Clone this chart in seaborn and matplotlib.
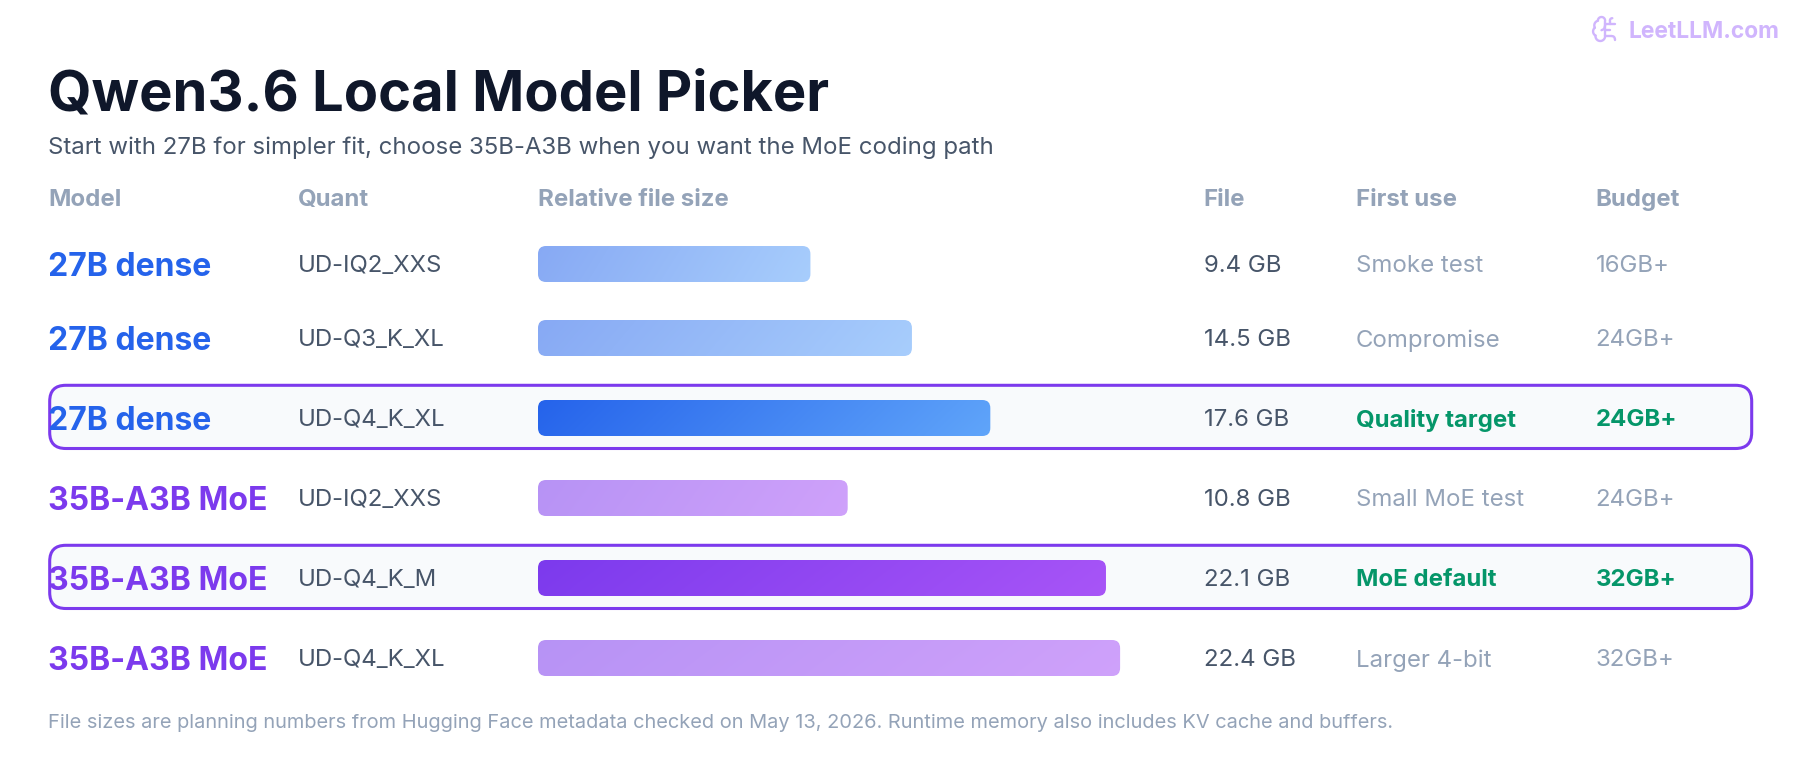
import matplotlib
matplotlib.use('Agg')
import matplotlib.pyplot as plt
import pandas as pd
import seaborn as sns
import numpy as np
from matplotlib.patches import FancyBboxPatch
from matplotlib.colors import to_rgb

models = ['27B dense', '27B dense', '27B dense', '35B-A3B MoE', '35B-A3B MoE', '35B-A3B MoE']
quants = ['UD-IQ2_XXS', 'UD-Q3_K_XL', 'UD-Q4_K_XL', 'UD-IQ2_XXS', 'UD-Q4_K_M', 'UD-Q4_K_XL']
file_labels = ['9.4 GB', '14.5 GB', '17.6 GB', '10.8 GB', '22.1 GB', '22.4 GB']
relative_size = [10.6, 14.55, 17.6, 12.05, 22.1, 22.65]  # bar lengths as drawn
first_use = ['Smoke test', 'Compromise', 'Quality target', 'Small MoE test', 'MoE default', 'Larger 4-bit']
budgets = ['16GB+', '24GB+', '24GB+', '24GB+', '32GB+', '32GB+']
picked = [False, False, True, False, True, False]
headers = ['Model', 'Quant', 'Relative file size', 'File', 'First use', 'Budget']

W, H = 1800, 784
ROW_Y = [264, 338, 418, 498, 578, 658]
HEADER_X = [48, 298, 538, 1203.5, 1356, 1595.5]
PX_PER_UNIT = 25.7
BLUE, PURPLE = '#2563eb', '#7c3aed'
GREEN = '#059669'
SLATE = '#475569'
MUTED = '#94a3b8'
LOGO = '#d0b5fd'

sns.set_theme(style='white')
plt.rcParams['font.family'] = ['Inter', 'DejaVu Sans']

fig = plt.figure(figsize=(W / 100, H / 100), dpi=100, facecolor='white')

bg = fig.add_axes([0, 0, 1, 1], zorder=-1)
bg.set_xlim(0, W)
bg.set_ylim(H, 0)
bg.axis('off')

ax = fig.add_axes([538 / W, 0, 1 - 538 / W, 1])


def put(x, y, s, size, color, weight='normal'):
    # y это базовая линия текста в пикселях
    fig.text(x / W, 1 - y / H, s, fontsize=size * 0.72, color=color,
             fontweight=weight, va='baseline', ha='left')


def arc(cx, cy, r, a0, a1):
    a = np.radians(np.linspace(a0, a1, 30))
    return cx + r * np.cos(a), cy + r * np.sin(a)


def draw_logo(x0, y0, k):
    # значок мозга, координаты в сетке 24x24
    parts = [arc(9, 5, 3, 0, -178), arc(7, 9, 4, -104, -208),
             arc(5.99, 14, 4, -129, -241), arc(8, 18, 4, -173, -360),
             ([12, 12], [18, 5]), ([9, 11.2, 12], [13, 12, 9]),
             ([12, 16], [13, 13]), ([12, 20], [8, 8]),
             ([16, 16], [8, 5]), arc(18, 5, 2, 180, 270),
             ([12, 18], [18, 18]), arc(18, 20, 2, -90, 0), ([20, 20], [20, 21])]
    for px, py in parts:
        bg.plot(x0 + k * np.asarray(px), y0 + k * np.asarray(py), color=LOGO,
                lw=1.7, solid_capstyle='round')


# подсветка выбранных строк
for y, p in zip(ROW_Y, picked):
    if p:
        bg.add_patch(FancyBboxPatch((49.7, y - 32.7), 1702, 63.2,
                                    boxstyle='round,pad=0,rounding_size=16',
                                    fc='#f8fafc', ec=PURPLE, lw=2.2))

df = pd.DataFrame({'row': ROW_Y, 'size': relative_size, 'model': models})
sns.barplot(data=df, x='size', y='row', orient='h', native_scale=True,
            width=36 / 74, ax=ax, color='#cccccc')
ax.axis('off')
ax.patch.set_alpha(0)

# seaborn рисует прямоугольники, заменяем их на скруглённые с градиентом
for bar, model, p in zip(list(ax.patches), models, picked):
    x0, y0, w, h = bar.get_x(), bar.get_y(), bar.get_width(), bar.get_height()
    bar.set_visible(False)
    if model.startswith('27B'):
        c0, c1 = to_rgb('#2563eb'), to_rgb('#60a5fa')
    else:
        c0, c1 = to_rgb('#7c3aed'), to_rgb('#a855f7')
    u, v = np.meshgrid(np.linspace(0, 1, 300), np.linspace(0, 1, 40))
    t = (u + 0.08 * v)[..., None] / 1.08
    rgb = np.array(c0) * (1 - t) + np.array(c1) * t
    if not p:
        rgb = rgb * 0.55 + 0.45
    im = ax.imshow(rgb, extent=(x0, x0 + w, y0 + h, y0), aspect='auto', zorder=3)
    clip = FancyBboxPatch((x0, y0), w, h, boxstyle=f'round,pad=0,rounding_size={8 / PX_PER_UNIT}',
                          mutation_aspect=PX_PER_UNIT, fc='none', ec='none')
    ax.add_patch(clip)
    im.set_clip_path(clip)
ax.set_xlim(0, (W - 538) / PX_PER_UNIT)
ax.set_ylim(H, 0)

put(48, 110, 'Qwen3.6 Local Model Picker', 56, '#0f172a', 'bold')
put(48, 154, 'Start with 27B for simpler fit, choose 35B-A3B when you want the MoE coding path', 24, SLATE)

for x, s in zip(HEADER_X, headers):
    put(x, 206, s, 24, MUTED, 'bold')

for i, y in enumerate(ROW_Y):
    name_color = BLUE if models[i].startswith('27B') else PURPLE
    put(48, y + 11.5, models[i], 32, name_color, 'bold')
    put(298, y + 8.5, quants[i], 24, SLATE)
    put(1204, y + 8.5, file_labels[i], 24, SLATE)
    put(1356, y + 8.5, first_use[i], 24, GREEN if picked[i] else MUTED, 'bold' if picked[i] else 'normal')
    put(1595.5, y + 8.5, budgets[i], 24, GREEN if picked[i] else MUTED, 'bold' if picked[i] else 'normal')

put(48, 728, 'File sizes are planning numbers from Hugging Face metadata checked on May 13, 2026. '
    'Runtime memory also includes KV cache and buffers.', 20, MUTED)
put(1628, 38, 'LeetLLM.com', 22.8, LOGO, 'bold')
draw_logo(1590.7, 14.6, 1.2)

fig.savefig('out.png', dpi=100)
